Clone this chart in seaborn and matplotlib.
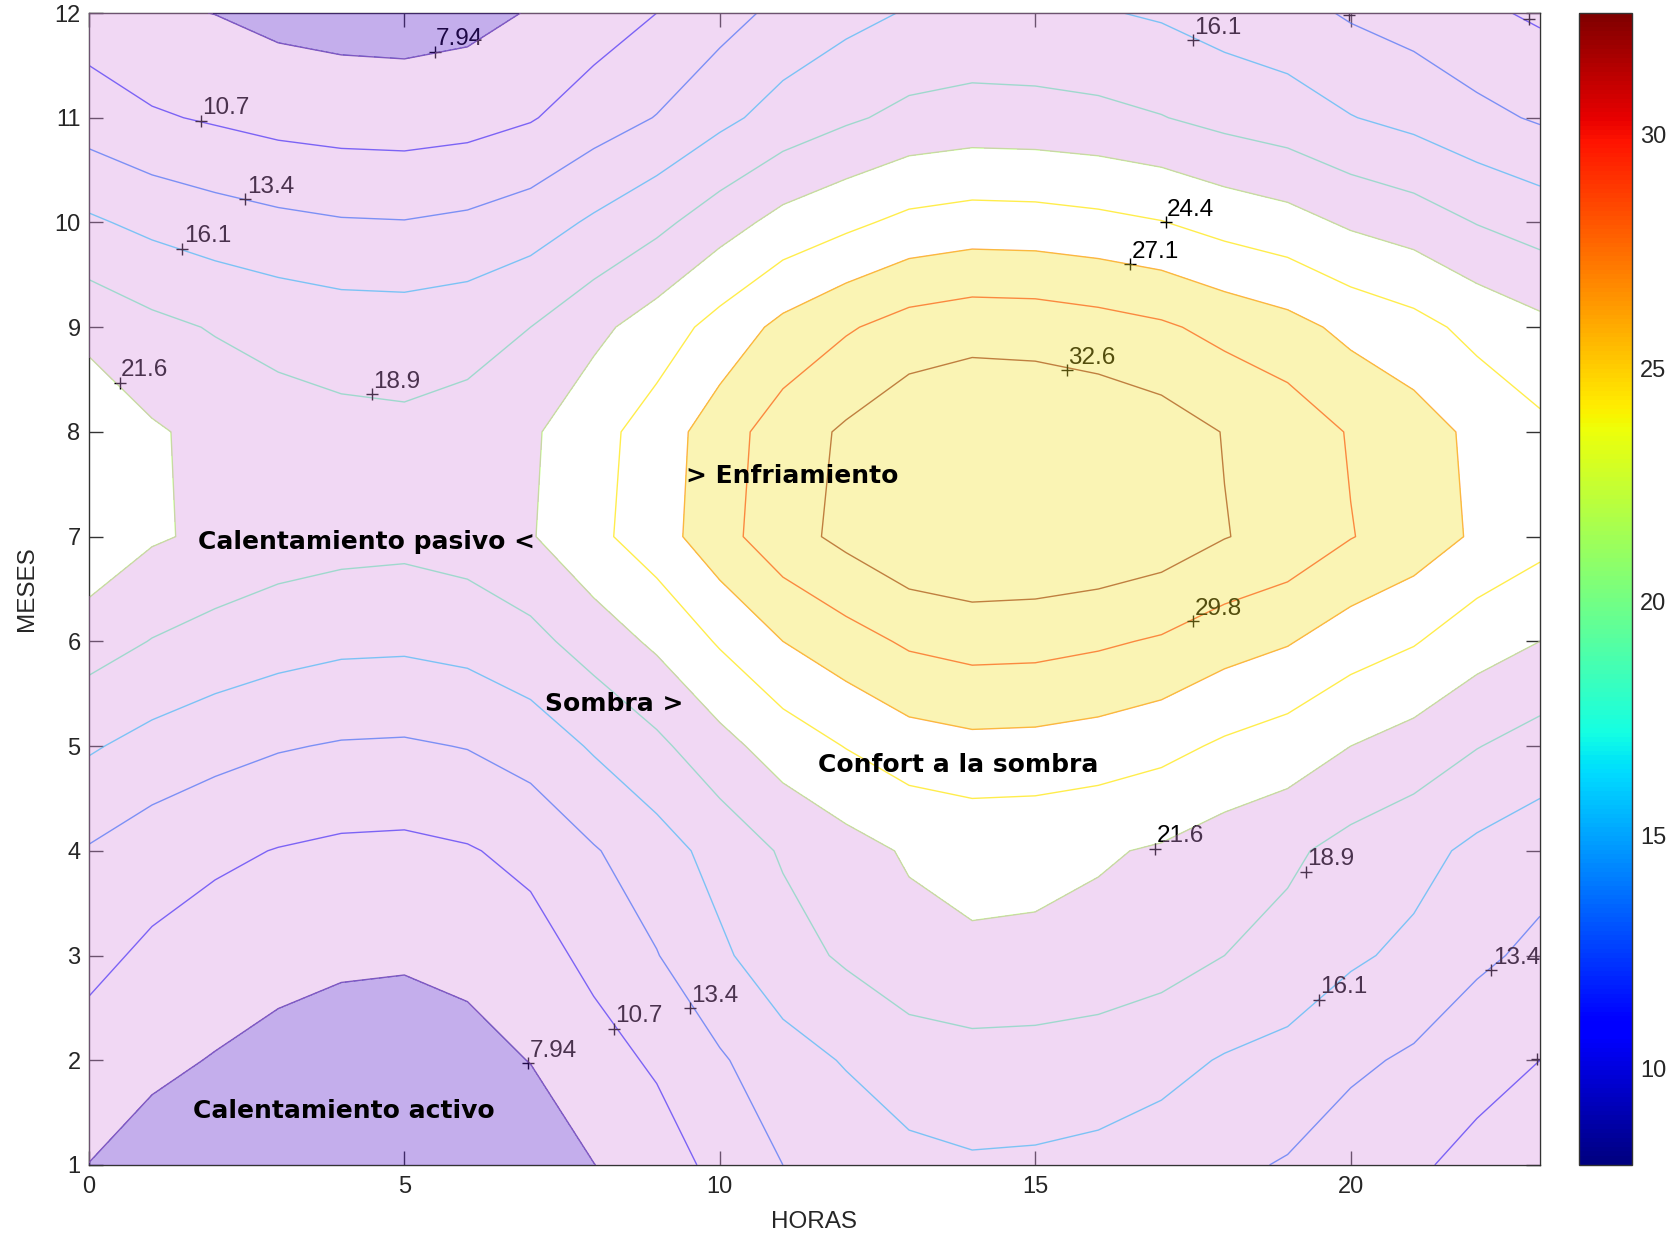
import matplotlib
matplotlib.use("Agg")
import numpy as np
import pandas as pd
import matplotlib.pyplot as plt
import seaborn as sns

# Horas del dia y meses del anio
hours = list(range(24))
months = list(range(1, 13))

# Temperatura horaria (C) para cada mes, de 0 h a 23 h
ene = [7.9, 6.8, 6.2, 5.6, 5.3, 5.2, 5.5, 6.3, 7.9, 9.3, 11.5, 13.4, 14.3, 15.4, 15.8, 15.7, 15.4, 14.8, 13.9, 13.2, 12.0, 11.1, 9.9, 8.9]
feb = [9.6, 8.5, 7.8, 7.2, 6.9, 6.8, 7.1, 8.0, 9.6, 11.1, 13.1, 15.0, 16.3, 17.5, 17.9, 17.8, 17.5, 16.9, 15.9, 15.2, 13.9, 13.0, 11.7, 10.7]
mar = [11.4, 10.2, 9.4, 8.7, 8.3, 8.2, 8.6, 9.6, 11.4, 13.3, 15.6, 17.8, 19.3, 20.7, 21.2, 21.1, 20.7, 20.0, 18.9, 18.0, 16.5, 15.5, 13.9, 12.8]
abr = [13.2, 12.0, 11.2, 10.6, 10.2, 10.1, 10.5, 11.4, 13.2, 14.9, 17.1, 19.2, 20.6, 21.9, 22.4, 22.3, 21.9, 21.3, 20.2, 19.4, 18.0, 17.0, 15.5, 14.4]
may = [16.4, 15.2, 14.3, 13.6, 13.2, 13.1, 13.5, 14.5, 16.4, 18.3, 20.7, 22.9, 24.5, 25.9, 26.4, 26.3, 25.9, 25.2, 24.0, 23.1, 21.6, 20.5, 19.0, 17.8]
jun = [20.1, 18.8, 17.9, 17.2, 16.7, 16.6, 17.0, 18.1, 20.1, 22.1, 24.7, 27.1, 28.7, 30.2, 30.8, 30.7, 30.2, 29.5, 28.2, 27.3, 25.7, 24.6, 22.8, 21.6]
jul = [23.7, 21.9, 21.1, 20.3, 19.9, 19.7, 20.2, 21.4, 23.7, 25.9, 28.8, 31.5, 33.3, 35.0, 35.6, 35.4, 35.0, 34.2, 32.7, 31.7, 29.9, 28.6, 26.7, 25.3]
ago = [23.4, 21.9, 20.9, 20.1, 19.7, 19.5, 20.0, 21.2, 23.4, 25.7, 28.5, 31.2, 33.0, 34.7, 35.3, 35.1, 34.7, 33.9, 32.5, 31.4, 29.6, 28.3, 26.5, 25.0]
sep = [20.9, 19.6, 18.7, 18.0, 17.5, 17.4, 17.8, 18.9, 20.9, 22.9, 25.4, 27.8, 29.5, 30.9, 31.5, 31.4, 30.9, 30.2, 29.0, 28.0, 26.4, 25.3, 23.6, 22.3]
octu = [16.5, 15.4, 14.6, 14.0, 13.6, 13.5, 13.9, 14.8, 16.5, 18.2, 20.4, 22.5, 23.8, 25.1, 25.6, 25.5, 25.1, 24.5, 23.4, 22.6, 21.2, 20.3, 18.8, 17.7]
nov = [12.1, 11.0, 10.4, 9.8, 9.5, 9.4, 9.7, 10.5, 12.1, 13.5, 15.4, 17.2, 18.5, 19.6, 20.0, 19.9, 19.6, 19.0, 18.1, 17.4, 16.2, 15.3, 14.1, 13.1]
dic = [9.3, 8.3, 7.9, 7.2, 6.9, 6.8, 7.1, 8.1, 9.3, 10.7, 12.4, 14.1, 15.3, 16.3, 16.7, 16.6, 16.3, 15.8, 14.9, 14.3, 13.1, 12.3, 11.2, 10.3]

# Isotermas y limites de las zonas
levels = [7.94, 10.7, 13.4, 16.1, 18.9, 21.6, 24.4, 27.1, 29.8, 32.6]
zone_limits = [7.94, 21.6, 27.1]

# Etiquetas de las isotermas (texto, hora, mes); las del borde quedan sin texto visible
label_text = ["7.94", "10.7", "13.4", "16.1", "21.6", "18.9", "24.4", "27.1", "32.6", "29.8",
              "16.1", "", "", "21.6", "18.9", "16.1", "13.4", "", "13.4", "10.7", "7.94"]
label_hour = [5.48, 1.77, 2.48, 1.48, 0.49, 4.49, 17.07, 16.5, 15.5, 17.5,
              17.5, 19.97, 22.82, 16.9, 19.29, 19.5, 22.23, 22.96, 9.52, 8.32, 6.96]
label_month = [11.63, 10.97, 10.22, 9.75, 8.47, 8.36, 10.0, 9.6, 8.59, 6.19,
               11.74, 11.98, 11.94, 4.02, 3.8, 2.58, 2.86, 2.01, 2.5, 2.3, 1.97]

# Nombres de las zonas
zone_text = ["Calentamiento pasivo <", "> Enfriamiento", "Sombra >",
             "Confort a la sombra", "Calentamiento activo"]
zone_hour = [1.73, 9.47, 7.23, 11.56, 1.65]
zone_month = [6.95, 7.58, 5.40, 4.82, 1.52]

df = pd.DataFrame([ene, feb, mar, abr, may, jun, jul, ago, sep, octu, nov, dic],
                  index=months, columns=hours)
Z = df.values

sns.set_theme(style="ticks")
plt.rcParams["font.family"] = ["Liberation Sans", "DejaVu Sans"]

fig = plt.figure(figsize=(16.81, 12.40), dpi=100)
ax = fig.add_axes([0.0529, 0.0605, 0.8632, 0.929])
cax = fig.add_axes([0.9393, 0.0605, 0.0315, 0.929])

norm = plt.Normalize(7.94, 32.6)

# lineas de contorno (jet), debajo de las zonas semitransparentes
ax.contour(df.columns, df.index, Z, levels=levels, cmap="jet", norm=norm,
           linewidths=1.0, alpha=0.7, zorder=1)
ax.plot(label_hour, label_month, "+", color="black", ms=9, mew=1.0, ls="none", zorder=2)
for t, h, m in zip(label_text, label_hour, label_month):
    if t:
        ax.annotate(t, (h, m), xytext=(1, 1), textcoords="offset points",
                    ha="left", va="bottom", fontsize=17.5, color="black",
                    zorder=2, clip_on=True)

# zonas: calentamiento activo, pasivo, confort (sin color) y enfriamiento
zone_colors = [(0.337, 0.094, 0.788, 0.35), (0.843, 0.565, 0.878, 0.35),
               (1, 1, 1, 0.0), (0.945, 0.878, 0.161, 0.35)]
bounds = [Z.min() - 1] + zone_limits + [Z.max() + 1]
ax.contourf(df.columns, df.index, Z, levels=bounds, colors=zone_colors, zorder=3)

for t, h, m in zip(zone_text, zone_hour, zone_month):
    ax.text(h, m, t, ha="left", va="center", fontsize=18, fontweight="bold",
            family="DejaVu Sans", color="black", zorder=5)

ax.set_xlim(0, 23)
ax.set_ylim(1, 12)
ax.set_xticks([0, 5, 10, 15, 20])
ax.set_yticks(months)
ax.tick_params(direction="in", top=True, right=True, length=10, width=1,
               labelsize=17, color="#333333", labelcolor="#262626")
ax.tick_params(axis="x", pad=8)
ax.tick_params(axis="y", pad=6)
for s in ax.spines.values():
    s.set_color("#333333")
    s.set_linewidth(1.0)
ax.set_xlabel("HORAS", fontsize=17.5, color="#262626", labelpad=9)
ax.set_ylabel("MESES", fontsize=17.5, color="#262626", labelpad=12)

sm = plt.cm.ScalarMappable(norm=norm, cmap="jet")
cb = fig.colorbar(sm, cax=cax, ticks=[10, 15, 20, 25, 30])
cb.ax.tick_params(direction="in", left=True, right=True, length=9, width=1,
                  labelsize=17, pad=6, color="#333333", labelcolor="#262626")
cb.outline.set_linewidth(1.0)
cb.outline.set_edgecolor("#333333")

fig.savefig("out.png", dpi=100, facecolor="white")
